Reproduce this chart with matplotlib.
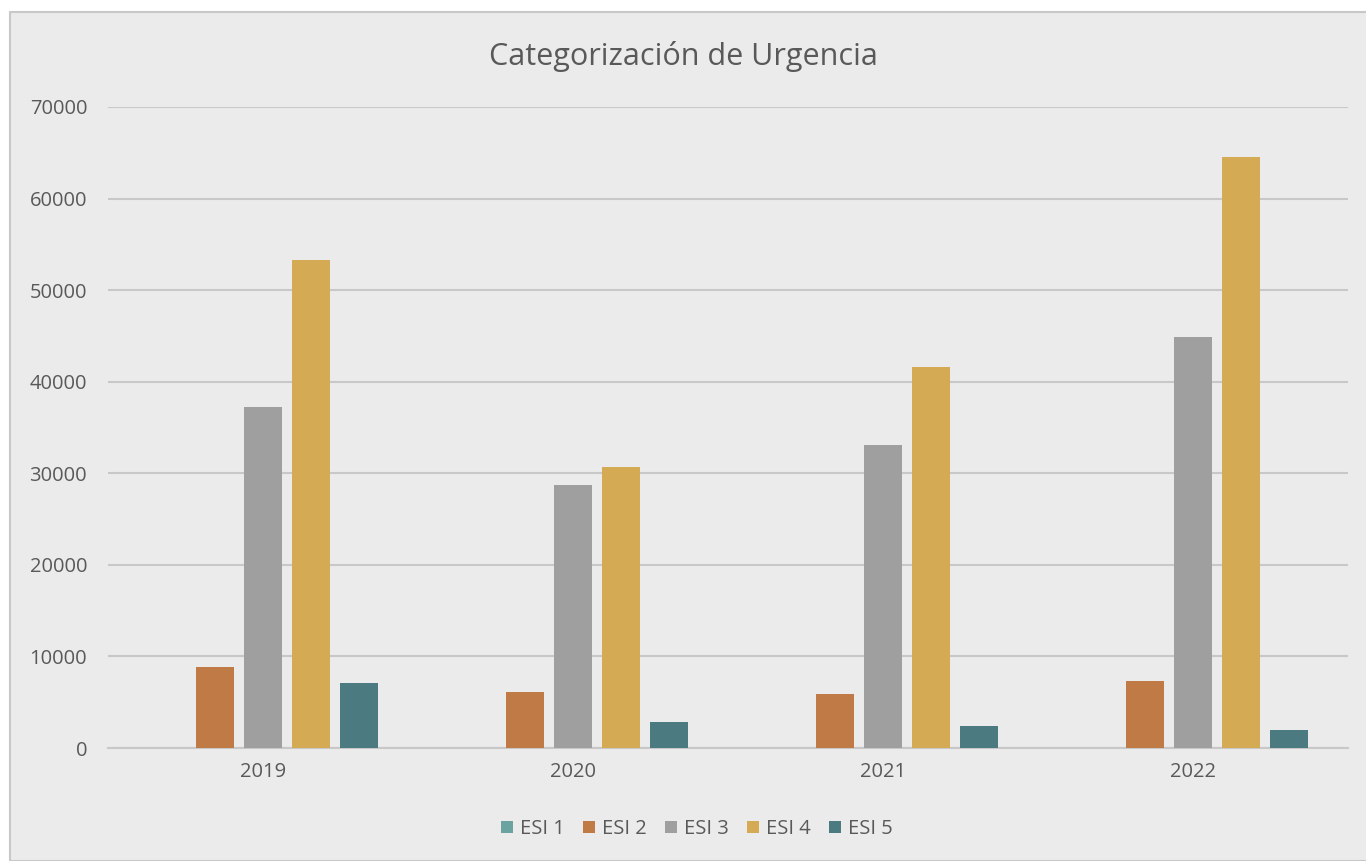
import matplotlib.pyplot as plt
import numpy as np
from matplotlib.patches import Rectangle

plt.rcParams['font.family'] = ['Open Sans', 'DejaVu Sans']

years = ['2019', '2020', '2021', '2022']
series = ['ESI 1', 'ESI 2', 'ESI 3', 'ESI 4', 'ESI 5']
esi1 = [0, 0, 0, 0]
esi2 = [8800, 6100, 5900, 7350]
esi3 = [37200, 28700, 33100, 44900]
esi4 = [53300, 30700, 41600, 64500]
esi5 = [7100, 2850, 2400, 2000]
values = [esi1, esi2, esi3, esi4, esi5]
colors = ['#6aa3a0', '#c07a45', '#9f9f9f', '#d4aa55', '#4b7b80']

fig = plt.figure(figsize=(13.66, 8.61), dpi=100)
fig.patch.set_facecolor('white')
fig.patches.append(Rectangle((10 / 1366, 0), 1.0, 1 - 12 / 861, transform=fig.transFigure,
                             facecolor='#ebebeb', edgecolor='#c8c8c8', linewidth=1.5, zorder=-1))

ax = fig.add_axes([108 / 1366, 1 - 748 / 861, 1240 / 1366, 641 / 861])
ax.set_facecolor('#ebebeb')

x = np.arange(len(years))
slot = 0.155
width = 0.121
for i, (name, vals) in enumerate(zip(series, values)):
    ax.bar(x + (i - 2) * slot, vals, width, color=colors[i], label=name, zorder=3)

ax.set_xlim(-0.5, 3.5)
ax.set_ylim(0, 70000)
ax.set_yticks(range(0, 70001, 10000))
ax.set_xticks(x)
ax.set_xticklabels(years)
ax.yaxis.grid(True, color='#c8c8c8', linewidth=1.5, zorder=0)
for s in ['top', 'right', 'left']:
    ax.spines[s].set_visible(False)
ax.spines['bottom'].set_color('#c8c8c8')
ax.spines['bottom'].set_linewidth(1.5)
ax.tick_params(axis='both', length=0, labelsize=14.5, labelcolor='#595959')
ax.tick_params(axis='y', pad=15)
ax.tick_params(axis='x', pad=10)

fig.text(0.5, 1 - 56 / 861, 'Categorización de Urgencia', ha='center', va='center',
         fontsize=22, color='#595959')

fig.legend(loc='center', bbox_to_anchor=(0.51, 1 - 829 / 861), ncol=5, frameon=False,
           fontsize=14.5, handlelength=0.6, handleheight=0.6, columnspacing=0.9,
           handletextpad=0.35, labelcolor='#595959')

fig.savefig('out.png', dpi=100, facecolor=fig.get_facecolor())
